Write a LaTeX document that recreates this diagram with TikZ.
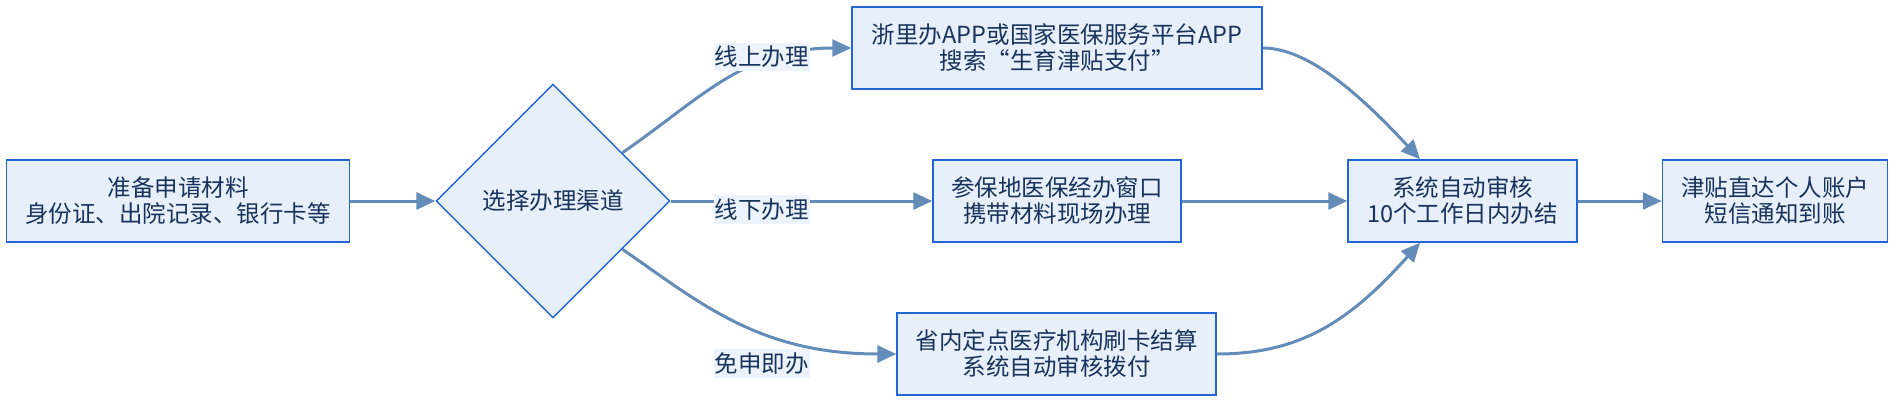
\documentclass[tikz,border=0pt]{standalone}
\usepackage{fontspec}
\setmainfont{Noto Sans CJK SC}
\usetikzlibrary{arrows.meta,shapes.geometric,calc}
\definecolor{boxfill}{RGB}{231,239,251}
\definecolor{boxline}{RGB}{34,102,214}
\definecolor{txt}{RGB}{24,52,92}
\definecolor{flowc}{RGB}{100,140,185}
\definecolor{lblbg}{RGB}{236,243,252}
\tikzset{
  box/.style={draw=boxline, line width=1.5pt, fill=boxfill, rectangle, inner sep=0pt,
    minimum height=82pt, align=center, text=txt,
    font=\fontsize{23.5pt}{26pt}\selectfont},
  choice/.style={draw=boxline, line width=1.4pt, fill=boxfill, diamond, inner sep=0pt,
    minimum width=234pt, minimum height=234pt, text=txt,
    font=\fontsize{23.5pt}{26pt}\selectfont},
  flow/.style={draw=flowc, line width=3pt, -{Triangle[length=19pt,width=17pt]}},
  lbl/.style={fill=lblbg, text=txt, inner xsep=1pt, inner ysep=3.5pt,
    font=\fontsize{23.5pt}{26pt}\selectfont}
}
\begin{document}
\begin{tikzpicture}[x=1pt,y=-1pt]
\useasboundingbox (0,0) rectangle (1900,404);
\node[box, minimum width=343pt] (b1) at (178,201) {准备申请材料\\身份证、出院记录、银行卡等};
\node[choice] (d) at (553,201) {选择办理渠道};
\node[box, minimum width=410pt] (b2) at (1057,48) {浙里办APP或国家医保服务平台APP\\搜索“生育津贴支付”};
\node[box, minimum width=248pt] (b3) at (1057,201) {参保地医保经办窗口\\携带材料现场办理};
\node[box, minimum width=319pt] (b4) at (1056.5,354) {省内定点医疗机构刷卡结算\\系统自动审核拨付};
\node[box, minimum width=229pt] (b5) at (1462.5,201) {系统自动审核\\10个工作日内办结};
\node[box, minimum width=225pt] (b6) at (1775,201) {津贴直达个人账户\\短信通知到账};

\coordinate (dup) at ($(d.north)!0.59!(d.east)$);
\coordinate (ddown) at ($(d.south)!0.59!(d.east)$);
\coordinate (b5top) at ($(b5.north)+(-42.5,0)$);
\coordinate (b5bot) at ($(b5.south)+(-42.5,0)$);

\draw[flow] (b1.east) -- (d.west);
\draw[flow] (dup) .. controls +(78,-54) and +(-107,0) .. (b2.west);
\draw[flow] (d.east) -- (b3.west);
\draw[flow] (ddown) .. controls +(78,54) and +(-137,0) .. (b4.west);
\draw[flow] (b2.east) .. controls +(43,0) and +(-65,-70) .. (b5top);
\draw[flow] (b3.east) -- (b5.west);
\draw[flow] (b4.east) .. controls +(84,0) and +(-70,78) .. (b5bot);
\draw[flow] (b5.east) -- (b6.west);

\node[lbl] (l1) at (761.5,57) {线上办理};
\node[lbl] (l2) at (761.5,209.5) {线下办理};
\node[lbl] (l3) at (761.5,363.5) {免申即办};
\end{tikzpicture}
\end{document}
